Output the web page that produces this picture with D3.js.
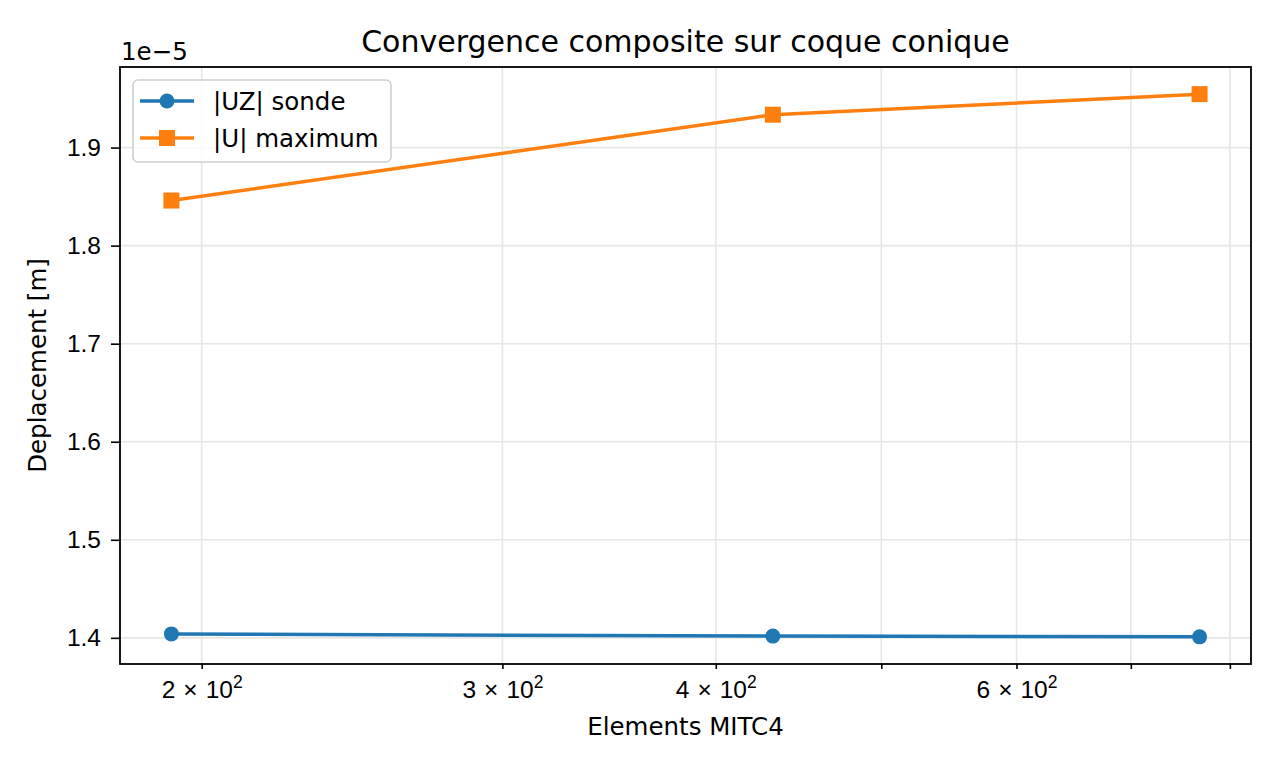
<!DOCTYPE html>
<html>
<head>
<meta charset="utf-8">
<script src="https://cdn.jsdelivr.net/npm/d3@7"></script>
<style>
  body { margin: 0; background: #fff; }
  svg { font-family: "DejaVu Sans", sans-serif; }
</style>
</head>
<body>
<div id="chart"></div>
<script>
// data
var elements = [192, 432, 768];
var uzSonde = [1.404e-5, 1.4018e-5, 1.4010e-5];
var uMax = [1.846e-5, 1.9335e-5, 1.9545e-5];
var seriesNames = ["|UZ| sonde", "|U| maximum"];
var xTicks = [200, 300, 400, 500, 600, 700, 800];
var xLabelled = [200, 300, 400, 600];
var yTicks = [1.4e-5, 1.5e-5, 1.6e-5, 1.7e-5, 1.8e-5, 1.9e-5];

var W = 1278, H = 774;
var margin = {top: 67, right: 27, bottom: 110, left: 120};
var width = W - margin.left - margin.right,
    height = H - margin.top - margin.bottom;
var fs = "24.5px";

var svg = d3.select("#chart").append("svg")
    .attr("width", W).attr("height", H);
var g = svg.append("g")
    .attr("transform", "translate(" + margin.left + "," + margin.top + ")");

// matplotlib style 5% margins (log space for x)
var lx = d3.extent(elements, function (d) { return Math.log10(d); });
var padX = (lx[1] - lx[0]) * 0.05;
var x = d3.scaleLog()
    .domain([Math.pow(10, lx[0] - padX), Math.pow(10, lx[1] + padX)])
    .range([0, width]);

var all = uzSonde.concat(uMax);
var ly = d3.extent(all);
var padY = (ly[1] - ly[0]) * 0.05;
var y = d3.scaleLinear()
    .domain([ly[0] - padY, ly[1] + padY])
    .range([height, 0]);

var gridColor = "#e6e6e6";

// grid
g.append("g").selectAll("line").data(xTicks).enter().append("line")
    .attr("x1", function (d) { return x(d); })
    .attr("x2", function (d) { return x(d); })
    .attr("y1", 0).attr("y2", height)
    .attr("stroke", gridColor).attr("stroke-width", 1.6);
g.append("g").selectAll("line").data(yTicks).enter().append("line")
    .attr("y1", function (d) { return y(d); })
    .attr("y2", function (d) { return y(d); })
    .attr("x1", 0).attr("x2", width)
    .attr("stroke", gridColor).attr("stroke-width", 1.6);

// x axis
var xAxis = d3.axisBottom(x)
    .tickValues(xTicks)
    .tickSize(5)
    .tickFormat("");
var xg = g.append("g")
    .attr("transform", "translate(0," + height + ")")
    .call(xAxis);
xg.select(".domain").remove();
xg.selectAll(".tick line").attr("stroke", "#000").attr("stroke-width", 1.6);

var xl = xg.selectAll(".tick")
    .filter(function (d) { return xLabelled.indexOf(d) >= 0; })
    .append("text")
    .attr("y", 34)
    .attr("text-anchor", "middle")
    .attr("fill", "#000")
    .style("font-size", fs);
xl.append("tspan").text(function (d) { return d / 100; });
xl.append("tspan").attr("dx", 8).text("\u00d7");
xl.append("tspan").attr("dx", 8).text("10");
xl.append("tspan").attr("dy", -10).style("font-size", "17.5px").text("2");

// y axis
var yAxis = d3.axisLeft(y)
    .tickValues(yTicks)
    .tickSize(9)
    .tickPadding(10)
    .tickFormat(function (d) { return (d / 1e-5).toFixed(1); });
var yg = g.append("g").call(yAxis);
yg.select(".domain").remove();
yg.selectAll(".tick line").attr("stroke", "#000").attr("stroke-width", 1.6);
yg.selectAll(".tick text")
    .attr("fill", "#000")
    .style("font-size", fs);

// frame
g.append("rect")
    .attr("width", width).attr("height", height)
    .attr("fill", "none").attr("stroke", "#000").attr("stroke-width", 1.8);

// series
var line = d3.line()
    .x(function (d, i) { return x(elements[i]); })
    .y(function (d) { return y(d); });

g.append("path").datum(uzSonde)
    .attr("d", line)
    .attr("fill", "none").attr("stroke", "#1f77b4").attr("stroke-width", 3.5);
g.selectAll(".pt-uz").data(uzSonde).enter().append("circle")
    .attr("class", "pt-uz")
    .attr("cx", function (d, i) { return x(elements[i]); })
    .attr("cy", function (d) { return y(d); })
    .attr("r", 7.5)
    .attr("fill", "#1f77b4");

g.append("path").datum(uMax)
    .attr("d", line)
    .attr("fill", "none").attr("stroke", "#ff7f0e").attr("stroke-width", 3.5);
g.selectAll(".pt-u").data(uMax).enter().append("rect")
    .attr("class", "pt-u")
    .attr("x", function (d, i) { return x(elements[i]) - 8; })
    .attr("y", function (d) { return y(d) - 8; })
    .attr("width", 16).attr("height", 16)
    .attr("fill", "#ff7f0e");

// offset text
svg.append("text")
    .attr("x", 121).attr("y", 60)
    .attr("fill", "#000")
    .style("font-size", fs)
    .text("1e\u22125");

// title and axis labels
svg.append("text")
    .attr("x", margin.left + width / 2).attr("y", 52)
    .attr("text-anchor", "middle")
    .style("font-size", "30px")
    .text("Convergence composite sur coque conique");
svg.append("text")
    .attr("x", margin.left + width / 2).attr("y", 735)
    .attr("text-anchor", "middle")
    .style("font-size", fs)
    .text("Elements MITC4");
svg.append("text")
    .attr("transform", "translate(46," + (margin.top + height / 2) + ") rotate(-90)")
    .attr("text-anchor", "middle")
    .style("font-size", fs)
    .text("Deplacement [m]");

// legend
var leg = g.append("g").attr("transform", "translate(13,13)");
leg.append("rect")
    .attr("width", 258).attr("height", 82).attr("rx", 5)
    .attr("fill", "#fff").attr("fill-opacity", 0.8)
    .attr("stroke", "#d0d0d0").attr("stroke-width", 1.6);
var colors = ["#1f77b4", "#ff7f0e"];
seriesNames.forEach(function (name, i) {
    var ry = 21 + i * 37;
    leg.append("line")
        .attr("x1", 7).attr("x2", 61).attr("y1", ry).attr("y2", ry)
        .attr("stroke", colors[i]).attr("stroke-width", 3.5);
    if (i === 0) {
        leg.append("circle").attr("cx", 34).attr("cy", ry).attr("r", 7.5).attr("fill", colors[i]);
    } else {
        leg.append("rect").attr("x", 26).attr("y", ry - 8).attr("width", 16).attr("height", 16).attr("fill", colors[i]);
    }
    leg.append("text")
        .attr("x", 80).attr("y", ry + 8.5)
        .style("font-size", fs)
        .text(name);
});
</script>
</body>
</html>
